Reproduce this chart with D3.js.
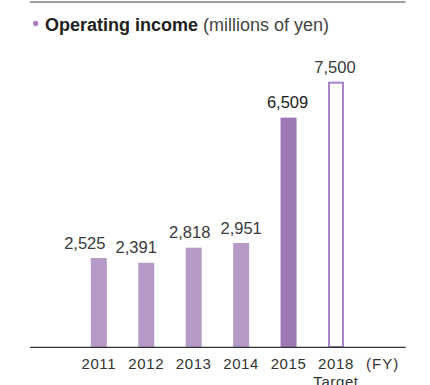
<!DOCTYPE html>
<html>
<head>
<meta charset="utf-8">
<script src="https://cdn.jsdelivr.net/npm/d3@7/dist/d3.min.js"></script>
<style>
  html, body { margin: 0; padding: 0; background: #fff; }
  svg { display: block; font-family: "Liberation Sans", Arial, sans-serif; }
</style>
</head>
<body>
<svg id="chart" width="430" height="385"></svg>
<script>
// Operating income by fiscal year (millions of yen)
const years = ["2011", "2012", "2013", "2014", "2015", "2018"];
const incomes = [2525, 2391, 2818, 2951, 6509, 7500];
const valueLabels = ["2,525", "2,391", "2,818", "2,951", "6,509", "7,500"];
// bar kind: past results, latest result, target
const kinds = ["past", "past", "past", "past", "latest", "target"];
// horizontal nudge of each value label relative to its bar centre
const labelNudge = [-14, -10, -4, 0, -1, -1];

const svg = d3.select("#chart");

const baseY = 347;
const x = d3.scaleBand().domain(years).range([75.1, 359.7]).padding(0);
const y = d3.scaleLinear().domain([0, 7500]).range([baseY, 82.7]);
const barW = 16;

const colors = { past: "#b59ac8", latest: "#9c78b4", target: "#a983c8" };

// top rule
svg.append("line")
  .attr("x1", 30).attr("x2", 405.5).attr("y1", 2).attr("y2", 2)
  .attr("stroke", "#808080").attr("stroke-width", 1.5);

// title
svg.append("circle").attr("cx", 35.7).attr("cy", 23.5).attr("r", 2.7).attr("fill", "#a77fc0");
const title = svg.append("text").attr("x", 45).attr("y", 31)
  .attr("font-size", 18).attr("fill", "#231f20");
title.append("tspan").attr("font-weight", "bold").text("Operating income");
title.append("tspan").attr("fill", "#444").text(" (millions of yen)");

const data = years.map((yr, i) => ({ yr, v: incomes[i], label: valueLabels[i], kind: kinds[i], nudge: labelNudge[i] }));

// bars
svg.append("g").selectAll("rect").data(data).join("rect")
  .attr("x", d => x(d.yr) + x.bandwidth() / 2 - barW / 2 + (d.kind === "target" ? 1 : 0))
  .attr("y", d => y(d.v))
  .attr("width", d => d.kind === "target" ? barW - 2 : barW)
  .attr("height", d => baseY - y(d.v))
  .attr("fill", d => d.kind === "target" ? "#fff" : colors[d.kind])
  .attr("stroke", d => d.kind === "target" ? colors.target : "none")
  .attr("stroke-width", 2);

// value labels
svg.append("g").selectAll("text").data(data).join("text")
  .attr("x", d => x(d.yr) + x.bandwidth() / 2 + d.nudge)
  .attr("y", d => y(d.v) - 9.5)
  .attr("text-anchor", "middle")
  .attr("font-size", 16.5)
  .attr("fill", d => d.kind === "latest" ? "#1a1a1a" : "#3a3a3a")
  .attr("font-weight", d => d.kind === "latest" ? 500 : "normal")
  .text(d => d.label);

// x axis
const axis = svg.append("g").attr("transform", `translate(0,${baseY})`)
  .call(d3.axisBottom(x).tickSize(0).tickPadding(11.5));
axis.select(".domain").remove();
axis.selectAll("text")
  .attr("font-size", 15)
  .attr("letter-spacing", 0.6)
  .attr("font-family", "\"Liberation Sans\", Arial, sans-serif")
  .attr("fill", "#333");

svg.append("line")
  .attr("x1", 30).attr("x2", 405.7).attr("y1", baseY + 0.3).attr("y2", baseY + 0.3)
  .attr("stroke", "#333").attr("stroke-width", 1.2);

svg.append("text").attr("x", 366).attr("y", 369.3)
  .attr("font-size", 15).attr("fill", "#333").attr("letter-spacing", 1)
  .text("(FY)");

svg.append("text").attr("x", x("2018") + x.bandwidth() / 2).attr("y", 386.5)
  .attr("text-anchor", "middle").attr("font-size", 15).attr("fill", "#333")
  .attr("letter-spacing", 0.6)
  .text("Target");
</script>
</body>
</html>
